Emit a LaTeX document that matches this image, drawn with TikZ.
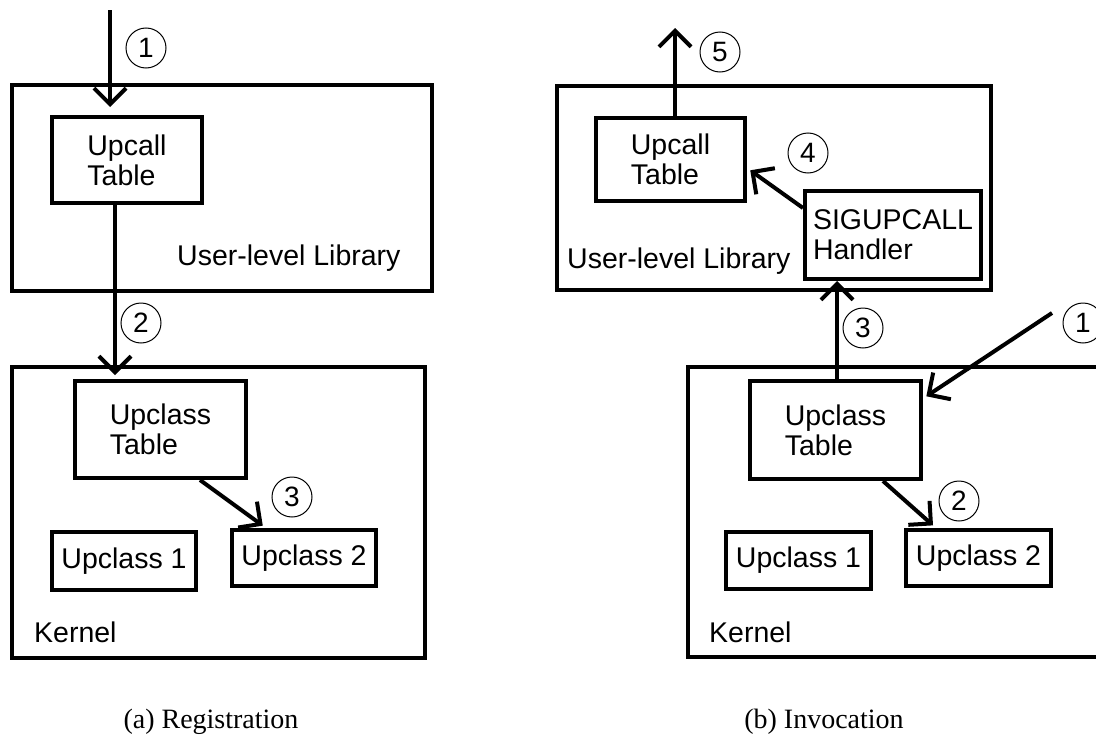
\documentclass[tikz,border=0pt]{standalone}
\usepackage{fontspec}
\setmainfont{Liberation Serif}
\newfontfamily\boxfont{Liberation Sans}
\usepackage{tikz}
\usetikzlibrary{arrows.meta}
\tikzstyle{frame}=[draw,line width=4pt,inner sep=0pt]
\tikzstyle{box}=[draw,line width=4pt,inner sep=0pt,align=left,font=\boxfont\fontsize{28.5}{30}\selectfont]
\tikzstyle{label}=[anchor=base west,inner sep=0pt,font=\boxfont\fontsize{28.5}{30}\selectfont]
\tikzstyle{num}=[circle,draw,line width=1pt,minimum size=40pt,inner sep=0pt,font=\boxfont\fontsize{28}{28}\selectfont]
\tikzstyle{edge}=[draw,line width=4pt,shorten >=4pt,-{Straight Barb[length=16pt,width=32pt]}]
\tikzstyle{caption}=[anchor=base,inner sep=0pt,font=\fontsize{28}{30}\selectfont]

\begin{document}
\begin{tikzpicture}[x=1pt,y=-1pt]
\useasboundingbox (0,0) rectangle (1096,736);
\clip (0,0) rectangle (1096,736);

    % (a) registration: the two layers
    \node[frame, minimum width=420pt, minimum height=206pt] (ulibA) at (222,188) {};
    \node[frame, minimum width=413pt, minimum height=291pt] (kernA) at (218.5,512.5) {};
    \node[label] (ulibAtext) at (177,265) {User-level Library};
    \node[label] (kernAtext) at (34,642) {Kernel};

    % then the tables and upclasses
    \foreach \pos/\name/\bw/\bh/\txt in {{(127,160)/upcA/150/86/Upcall\\Table}, {(160.5,429.5)/uclA/171/97/Upclass\\Table}, {(124,561)/upoA/144/58/Upclass 1}, {(304,558)/uptA/144/56/Upclass 2}}
        \node[box, minimum width=\bw pt, minimum height=\bh pt] (\name) at \pos {\txt};

    % steps
    \foreach \pos/\name/\txt in {{(146,48)/stA1/1}, {(141,323)/stA2/2}, {(292,497)/stA3/3}}
        \node[num] (\name) at \pos {\txt};

    \coordinate (inA) at (110,10);
    \path[edge, shorten >=8pt] (inA) -- (inA |- upcA.north);
    \path[edge] ([xshift=-12pt]upcA.south) -- ([xshift=-45.5pt]uclA.north);
    \path[edge] ([xshift=39.5pt]uclA.south) -- ([xshift=-38pt]uptA.north);

    \node[caption] (capA) at (211,728) {(a) Registration};


    % (b) invocation: the two layers
    \node[frame, minimum width=434pt, minimum height=204pt] (ulibB) at (774,188) {};
    \node[frame, minimum width=414pt, minimum height=290pt] (kernB) at (895,512) {};
    \node[label] (ulibBtext) at (567,268) {User-level Library};
    \node[label] (kernBtext) at (709,642) {Kernel};

    % then the tables, handler and upclasses
    \foreach \pos/\name/\bw/\bh/\txt in {{(670.5,159.5)/upcB/149/83/Upcall\\Table}, {(893,235)/hdlB/176/88/SIGUPCALL\\Handler}, {(835.5,430)/uclB/171/98/Upclass\\Table}, {(798.5,560.5)/upoB/145/57/Upclass 1}, {(978.5,558)/uptB/145/56/Upclass 2}}
        \node[box, minimum width=\bw pt, minimum height=\bh pt] (\name) at \pos {\txt};

    % steps
    \foreach \pos/\name/\txt in {{(1083,323)/stB1/1}, {(959,501)/stB2/2}, {(863,328)/stB3/3}, {(808,153)/stB4/4}, {(720,52)/stB5/5}}
        \node[num] (\name) at \pos {\txt};

    \coordinate (inB) at (1052,313);
    \coordinate (outB) at (675,24);
    \path[edge] (inB) -- ([yshift=31.5pt]uclB.east);
    \path[edge] ([xshift=47.5pt]uclB.south) -- ([xshift=-42.5pt]uptB.north);
    \path[edge, shorten >=0pt] ([xshift=1.5pt]uclB.north) -- ([xshift=-56pt]hdlB.south);
    \path[edge] ([yshift=-19pt]hdlB.north west) -- ([yshift=-8.5pt]upcB.east);
    \path[edge] ([xshift=4.5pt]upcB.north) -- (outB);

    \node[caption] (capB) at (824,728) {(b) Invocation};

\end{tikzpicture}
\end{document}
